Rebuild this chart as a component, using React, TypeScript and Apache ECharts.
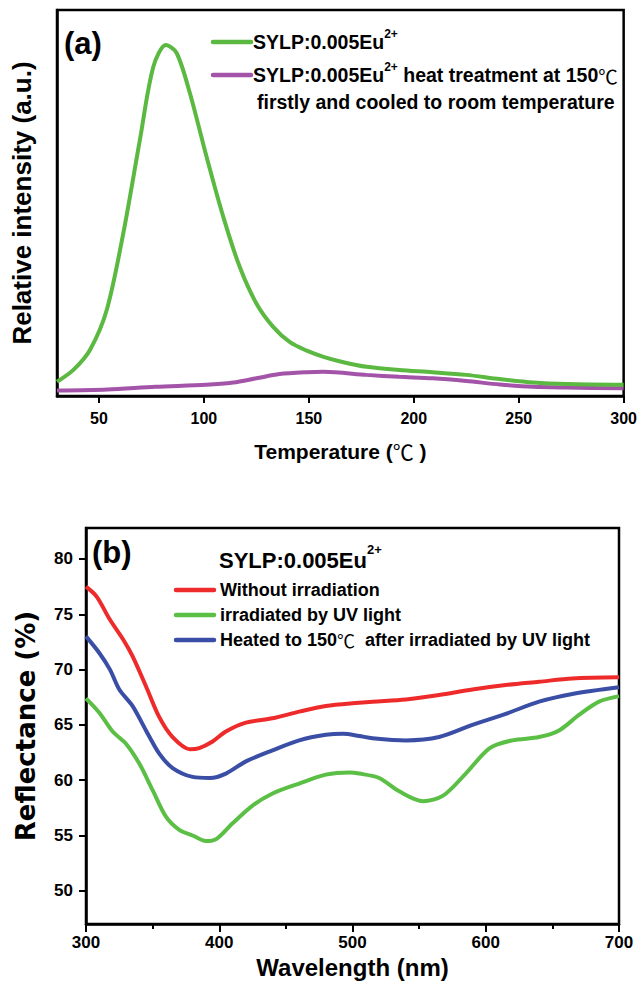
import React, { useEffect, useRef } from "react";
import * as echarts from "echarts";

// ---- Panel (a): thermoluminescence ----
const tempGreen = [30, 37.8, 45.7, 53.7, 61.6, 69.5, 75.9, 81.9, 87, 93.3, 101.3, 109.2, 117, 125, 133, 141, 149, 157, 165, 177.5, 193, 209, 225, 241, 257, 273, 300];
const valGreen = [3.7, 6.8, 12, 22.4, 42.4, 66.7, 85.7, 91.4, 89.3, 78.9, 62.2, 46.7, 33.7, 24.1, 18, 14, 11.8, 10.2, 9.0, 7.6, 6.8, 6.2, 5.5, 4.4, 3.5, 3.1, 2.9];
const tempPurple = [30, 54, 77, 101, 114, 125, 136, 149, 157, 177.5, 193, 209, 225, 241, 257, 273, 300];
const valPurple = [1.4, 1.7, 2.4, 2.9, 3.5, 4.6, 5.7, 6.2, 6.3, 5.5, 5.0, 4.6, 3.9, 3.0, 2.4, 2.2, 2.0];
const tempTicks = [50, 100, 150, 200, 250, 300];

// ---- Panel (b): reflectance ----
const wlRed = [300, 308, 318, 328, 335, 345, 355, 365, 378, 385, 395, 405, 420, 440, 460, 480, 505, 515, 540, 565, 590, 615, 640, 665, 700];
const valRed = [77.5, 76.6, 74.5, 72.7, 71.2, 68.5, 65.7, 63.9, 62.8, 62.9, 63.5, 64.4, 65.2, 65.6, 66.2, 66.7, 67.0, 67.1, 67.3, 67.7, 68.2, 68.6, 68.9, 69.2, 69.3];
const wlBlue = [300, 310, 318, 325, 335, 345, 355, 365, 380, 393, 405, 420, 440, 460, 480, 493, 505, 515, 540, 565, 590, 615, 640, 665, 700];
const valBlue = [73.0, 71.5, 70.0, 68.2, 66.7, 64.5, 62.4, 61.1, 60.3, 60.2, 60.6, 61.7, 62.7, 63.6, 64.1, 64.2, 64.0, 63.8, 63.6, 63.9, 65.0, 66.0, 67.1, 67.8, 68.4];
const wlGreen = [300, 310, 320, 330, 340, 350, 360, 370, 380, 390, 398, 410, 425, 440, 460, 480, 498, 505, 520, 535, 553, 568, 585, 603, 620, 640, 655, 670, 685, 700];
const valGreenB = [67.4, 66.1, 64.4, 63.3, 61.5, 59.1, 56.7, 55.5, 55.0, 54.5, 54.7, 56.1, 57.7, 58.8, 59.7, 60.5, 60.7, 60.6, 60.2, 59.0, 58.1, 58.6, 60.6, 62.9, 63.6, 63.9, 64.5, 65.9, 67.1, 67.6];
const reflTicks = [50, 55, 60, 65, 70, 75, 80];

const seriesNamesA = ["SYLP:0.005Eu2+", "SYLP:0.005Eu2+ heat treatment at 150℃ firstly and cooled to room temperature"];
const seriesNamesB = ["Without irradiation", "irradiated by UV light", "Heated to 150℃  after irradiated by UV light"];

const colA = ["#5bb840", "#a353a8"];
const colB = ["#ee2b2b", "#5cbf45", "#3a4ea6"];

const FONT = "'Liberation Sans', Arial, 'Noto Sans CJK SC', sans-serif";
const FONT_WIDE = "'DejaVu Sans', 'Liberation Sans', 'Noto Sans CJK SC', sans-serif";
const CJK = "'Noto Sans CJK SC', sans-serif";

const zip = (xs: number[], ys: number[]) => xs.map((x, i) => [x, ys[i]]);

export default function App() {
  const ref = useRef<HTMLDivElement>(null);
  useEffect(() => {
    document.body.style.margin = "0";
    const chart = echarts.init(ref.current!, null, { renderer: "svg" });
    const axisLine = { show: true, lineStyle: { color: "#000", width: 2.5 } };
    const rich = (main: number, sup: number, lh: number) => ({
      m: { fontSize: main, fontWeight: "bold", fontFamily: FONT, color: "#000", lineHeight: lh, verticalAlign: "middle" },
      c: { fontSize: main, fontWeight: "normal", fontFamily: CJK, color: "#000", lineHeight: lh, verticalAlign: "middle" },
      s: { fontSize: sup, fontWeight: "bold", fontFamily: FONT, color: "#000", lineHeight: sup, verticalAlign: "top" },
    });
    const legendLine = (x: number, y: number, color: string) => ({
      type: "line",
      shape: { x1: x, y1: y, x2: x + 38, y2: y },
      style: { stroke: color, lineWidth: 4.5, lineCap: "round" },
    });
    const tickFont = { fontFamily: FONT, fontWeight: "bold", fontSize: 16, color: "#000" };
    chart.setOption({
      animation: false,
      backgroundColor: "#fff",
      grid: [
        { left: 57, right: 16, top: 10, bottom: 594, show: true, borderColor: "#000", borderWidth: 2.5, containLabel: false },
        { left: 86, right: 21, top: 528, bottom: 66, show: true, borderColor: "#000", borderWidth: 2.5, containLabel: false },
      ],
      xAxis: [
        {
          gridIndex: 0, type: "value", min: 30, max: 300,
          name: "{m|Temperature (}{c|℃}{m| )}", nameLocation: "middle", nameGap: 42,
          nameTextStyle: { rich: rich(21, 12, 26) },
          axisLine, splitLine: { show: false },
          axisTick: { show: true, inside: false, length: 7, customValues: tempTicks, lineStyle: { color: "#000", width: 2 } },
          axisLabel: { customValues: tempTicks, margin: 14, ...tickFont },
        },
        {
          gridIndex: 1, type: "value", min: 300, max: 700, interval: 100,
          name: "Wavelength (nm)", nameLocation: "middle", nameGap: 31,
          nameTextStyle: { fontFamily: FONT, fontWeight: "bold", fontSize: 24, color: "#000" },
          axisLine, splitLine: { show: false },
          axisTick: { show: true, inside: false, length: 8, lineStyle: { color: "#000", width: 2 } },
          minorTick: { show: true, splitNumber: 2, length: 5, lineStyle: { color: "#000", width: 2 } },
          axisLabel: { margin: 10, ...tickFont, fontSize: 17 },
        },
      ],
      yAxis: [
        {
          gridIndex: 0, type: "value", min: 0, max: 100.5,
          name: "Relative intensity (a.u.)", nameLocation: "middle", nameGap: 22,
          nameTextStyle: { fontFamily: FONT, fontWeight: "bold", fontSize: 26, color: "#000" },
          axisLine, splitLine: { show: false }, axisTick: { show: false }, axisLabel: { show: false },
        },
        {
          gridIndex: 1, type: "value", min: 47, max: 82.8,
          name: "Reflectance (%)", nameLocation: "middle", nameGap: 47,
          nameTextStyle: { fontFamily: FONT_WIDE, fontWeight: "bold", fontSize: 26, color: "#000" },
          axisLine, splitLine: { show: false },
          axisTick: { show: true, inside: false, length: 7, customValues: reflTicks, lineStyle: { color: "#000", width: 2 } },
          axisLabel: { customValues: reflTicks, margin: 13, ...tickFont, fontSize: 17 },
        },
      ],
      series: [
        { name: seriesNamesA[0], type: "line", xAxisIndex: 0, yAxisIndex: 0, data: zip(tempGreen, valGreen), smooth: 0.3, showSymbol: false, lineStyle: { color: colA[0], width: 4 }, z: 3 },
        { name: seriesNamesA[1], type: "line", xAxisIndex: 0, yAxisIndex: 0, data: zip(tempPurple, valPurple), smooth: 0.3, showSymbol: false, lineStyle: { color: colA[1], width: 4 }, z: 2 },
        { name: seriesNamesB[0], type: "line", xAxisIndex: 1, yAxisIndex: 1, data: zip(wlRed, valRed), smooth: 0.3, showSymbol: false, lineStyle: { color: colB[0], width: 4 } },
        { name: seriesNamesB[1], type: "line", xAxisIndex: 1, yAxisIndex: 1, data: zip(wlGreen, valGreenB), smooth: 0.3, showSymbol: false, lineStyle: { color: colB[1], width: 4 } },
        { name: seriesNamesB[2], type: "line", xAxisIndex: 1, yAxisIndex: 1, data: zip(wlBlue, valBlue), smooth: 0.3, showSymbol: false, lineStyle: { color: colB[2], width: 4 } },
      ],
      graphic: [
        { type: "text", x: 64, y: 43, style: { text: "(a)", fontFamily: FONT, fontWeight: "bold", fontSize: 31, fill: "#000", verticalAlign: "middle" } },
        legendLine(213, 42, colA[0]),
        { type: "text", x: 253, y: 42, style: { text: "{m|SYLP:0.005Eu}{s|2+}", rich: rich(19.5, 12, 28), verticalAlign: "middle" } },
        legendLine(213, 75, colA[1]),
        { type: "text", x: 253, y: 75, style: { text: "{m|SYLP:0.005Eu}{s|2+}{m| heat treatment at 150}{c|℃}", rich: rich(19.5, 12, 28), verticalAlign: "middle" } },
        { type: "text", x: 257, y: 102, style: { text: "firstly and cooled to room temperature", fontFamily: FONT, fontWeight: "bold", fontSize: 19.5, fill: "#000", verticalAlign: "middle" } },

        { type: "text", x: 92, y: 552, style: { text: "(b)", fontFamily: FONT, fontWeight: "bold", fontSize: 31, fill: "#000", verticalAlign: "middle" } },
        { type: "text", x: 219, y: 560, style: { text: "{m|SYLP:0.005Eu}{s|2+}", rich: rich(22, 13, 34), verticalAlign: "middle" } },
        legendLine(176, 590, colB[0]),
        { type: "text", x: 220, y: 590, style: { text: seriesNamesB[0], fontFamily: FONT, fontWeight: "bold", fontSize: 18, fill: "#000", verticalAlign: "middle" } },
        legendLine(176, 615, colB[1]),
        { type: "text", x: 220, y: 615, style: { text: seriesNamesB[1], fontFamily: FONT, fontWeight: "bold", fontSize: 18, fill: "#000", verticalAlign: "middle" } },
        legendLine(176, 640, colB[2]),
        { type: "text", x: 220, y: 640, style: { text: "{m|Heated to 150}{c|℃}{m|  after irradiated by UV light}", rich: rich(18, 11, 22), verticalAlign: "middle" } },
      ],
    });
    return () => chart.dispose();
  }, []);
  return <div ref={ref} style={{ width: 640, height: 990 }} />;
}
